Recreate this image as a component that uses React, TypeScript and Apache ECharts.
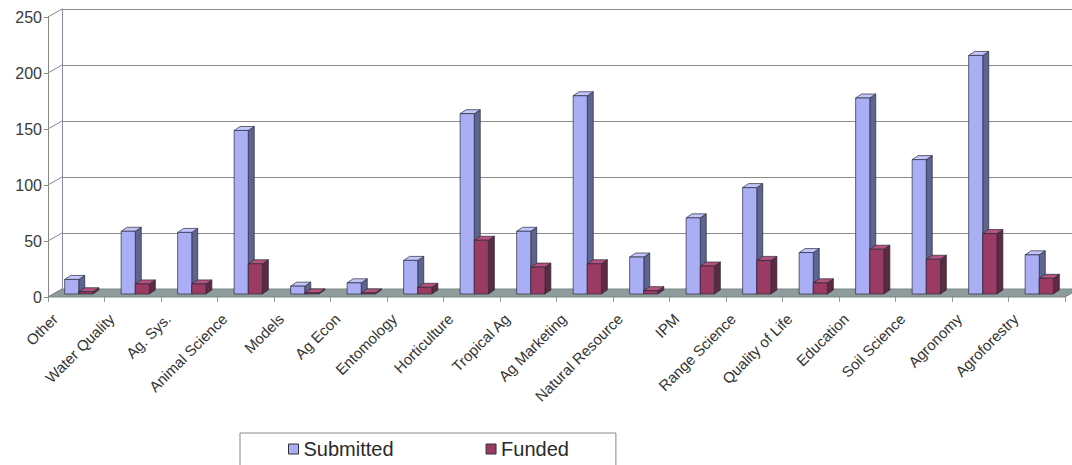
import React, { useEffect, useRef } from "react";
import * as echarts from "echarts";

const categories = [
  "Other", "Water Quality", "Ag. Sys.", "Animal Science", "Models", "Ag Econ",
  "Entomology", "Horticulture", "Tropical Ag", "Ag Marketing", "Natural Resource",
  "IPM", "Range Science", "Quality of Life", "Education", "Soil Science",
  "Agronomy", "Agroforestry",
];
const submitted = [13, 56, 55, 146, 7, 10, 30, 161, 56, 177, 33, 68, 95, 37, 175, 120, 213, 35];
const funded = [2, 9, 9, 27, 1, 1, 6, 48, 24, 27, 3, 25, 30, 10, 40, 31, 54, 14];
const yTicks = [0, 50, 100, 150, 200, 250];

const FONT = 'Arial, "Liberation Sans", sans-serif';
const DEPTH_X = 14;
const DEPTH_Y = -8;

const SUB = { front: "#a9aef5", side: "#5c6490", top: "#c3c6fa" };
const FUN = { front: "#9b3a62", side: "#5e2a42", top: "#b5527e" };

function barRenderer(which: "sub" | "fun") {
  const c = which === "sub" ? SUB : FUN;
  return (params: any, api: any) => {
    const i = api.value(0);
    const v = api.value(1);
    const base = api.coord([i, 0]);
    const top = api.coord([i, v]);
    const bw = api.size([1, 0])[0];
    const w = bw * 0.25;
    const sx = 2.5;
    const sy = -3;
    const x0 = (which === "sub" ? base[0] - w : base[0]) + sx;
    const x1 = x0 + w;
    const yb = base[1] + sy;
    const yt = top[1] + sy;
    const dx = 6;
    const dy = -4;
    const stroke = "#2a2a3a";
    return {
      type: "group",
      children: [
        {
          type: "polygon",
          shape: { points: [[x1, yt], [x1 + dx, yt + dy], [x1 + dx, yb + dy], [x1, yb]] },
          style: { fill: c.side, stroke, lineWidth: 0.7 },
        },
        {
          type: "polygon",
          shape: { points: [[x0, yt], [x1, yt], [x1 + dx, yt + dy], [x0 + dx, yt + dy]] },
          style: { fill: c.top, stroke, lineWidth: 0.7 },
        },
        {
          type: "rect",
          shape: { x: x0, y: yt, width: w, height: yb - yt },
          style: { fill: c.front, stroke, lineWidth: 0.7 },
        },
      ],
    };
  };
}

export default function App() {
  const ref = useRef<HTMLDivElement>(null);
  useEffect(() => {
    if (!ref.current) return;
    const chart = echarts.init(ref.current, undefined, { renderer: "svg" });
    const option: any = {
      animation: false,
      backgroundColor: "#ffffff",
      textStyle: { fontFamily: FONT },
      grid: [
        { left: 48, top: 17, width: 1017, height: 280, containLabel: false },
        { left: 48 + DEPTH_X, top: 17 + DEPTH_Y, width: 1017, height: 280, containLabel: false },
      ],
      xAxis: [
        {
          type: "category",
          gridIndex: 0,
          data: categories,
          boundaryGap: true,
          axisLine: { show: false },
          axisTick: { show: true, length: 5, lineStyle: { color: "#999" } },
          axisLabel: {
            rotate: 45,
            interval: 0,
            fontSize: 15,
            color: "#333",
            fontFamily: FONT,
            margin: -2,
            padding: [0, 30, 0, 0],
          },
          splitLine: { show: false },
        },
        {
          type: "category",
          gridIndex: 1,
          data: categories,
          show: false,
        },
      ],
      yAxis: [
        {
          type: "value",
          gridIndex: 0,
          min: 0,
          max: 250,
          interval: 50,
          axisLine: { show: true, lineStyle: { color: "#888" } },
          axisTick: { show: true, length: 4, lineStyle: { color: "#888" } },
          axisLabel: { fontSize: 16, color: "#3a3a3a", fontFamily: FONT, margin: 6 },
          splitLine: { show: false },
        },
        {
          type: "value",
          gridIndex: 1,
          min: 0,
          max: 250,
          interval: 50,
          axisLine: { show: true, lineStyle: { color: "#8888aa" } },
          axisTick: { show: false },
          axisLabel: { show: false },
          splitLine: { show: true, lineStyle: { color: "#8a8a8a", width: 1 } },
        },
      ],
      legend: {
        data: [
          { name: "Submitted", itemStyle: { color: SUB.front, borderColor: "#333", borderWidth: 1 } },
          { name: "Funded", itemStyle: { color: FUN.front, borderColor: "#333", borderWidth: 1 } },
        ],
        left: 240,
        top: 433,
        icon: "rect",
        itemWidth: 10,
        itemHeight: 10,
        itemGap: 92,
        padding: [6, 47, 20, 48],
        borderColor: "#888",
        borderWidth: 1,
        textStyle: { fontSize: 20, color: "#2a2a2a", fontFamily: FONT },
      },
      series: [
        {
          type: "custom",
          name: "floor",
          xAxisIndex: 0,
          yAxisIndex: 0,
          z: 1,
          silent: true,
          clip: false,
          data: [[0, 0]],
          renderItem: (params: any) => {
            const cs = params.coordSys;
            const yb = cs.y + cs.height;
            return {
              type: "polygon",
              shape: {
                points: [
                  [cs.x, yb],
                  [cs.x + cs.width, yb],
                  [cs.x + cs.width + DEPTH_X, yb + DEPTH_Y],
                  [cs.x + DEPTH_X, yb + DEPTH_Y],
                ],
              },
              style: { fill: "#8f9c9c", stroke: "#7a8585", lineWidth: 1 },
            };
          },
        },
        {
          type: "custom",
          name: "wall",
          xAxisIndex: 0,
          yAxisIndex: 0,
          z: 2,
          silent: true,
          clip: false,
          data: yTicks.map((v) => [0, v]),
          renderItem: (params: any, api: any) => {
            const cs = params.coordSys;
            const p = api.coord([0, api.value(1)]);
            return {
              type: "line",
              shape: { x1: cs.x, y1: p[1], x2: cs.x + DEPTH_X, y2: p[1] + DEPTH_Y },
              style: { stroke: "#888", lineWidth: 1 },
            };
          },
        },
        {
          type: "custom",
          name: "Submitted",
          xAxisIndex: 0,
          yAxisIndex: 0,
          z: 3,
          clip: false,
          itemStyle: { color: SUB.front },
          encode: { x: 0, y: 1 },
          data: submitted.map((v, i) => [i, v]),
          renderItem: barRenderer("sub"),
        },
        {
          type: "custom",
          name: "Funded",
          xAxisIndex: 0,
          yAxisIndex: 0,
          z: 3,
          clip: false,
          itemStyle: { color: FUN.front },
          encode: { x: 0, y: 1 },
          data: funded.map((v, i) => [i, v]),
          renderItem: barRenderer("fun"),
        },
      ],
    };
    chart.setOption(option);
    return () => chart.dispose();
  }, []);
  return (
    <div
      ref={ref}
      style={{ position: "fixed", left: 0, top: 0, width: 1072, height: 465 }}
    />
  );
}
